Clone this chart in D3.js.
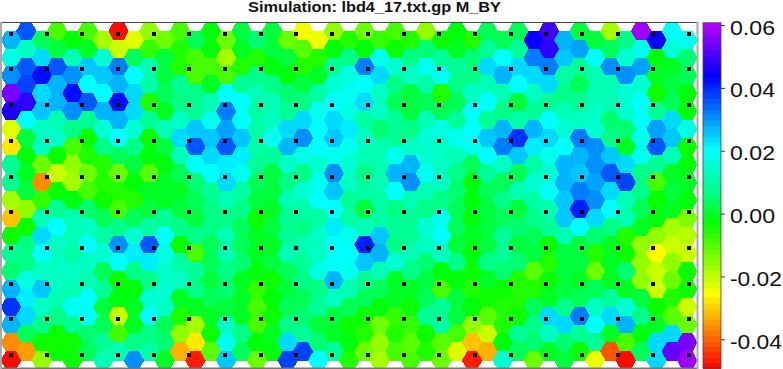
<!DOCTYPE html>
<html><head><meta charset="utf-8">
<style>html,body{margin:0;padding:0;background:#fff;overflow:hidden}</style>
<script src="https://cdn.jsdelivr.net/npm/d3@7/dist/d3.min.js"></script>
</head><body><script>
const title = "Simulation: lbd4_17.txt.gp M_BY";
const colorTicks = [0.06,0.04,0.02,0,-0.02,-0.04];
// values per hexagon column, top to bottom, in thousandths
const col00=[28,17,31,54,46,-22,-28,8,9,-18,-31,-4,9,5,27,39,28,-37,-49];
const col01=[35,14,36,38,48,21,1,-2,0,1,-15,-4,7,7,17,22,23,3,-34];
const col02=[3,24,43,23,26,14,14,-12,-36,-7,11,23,20,14,26,14,6,-3,-15];
const col03=[-9,2,35,27,27,12,13,-3,-20,-3,8,20,14,14,14,12,6,-4,-4];
const col04=[-2,12,30,43,30,6,-8,-15,-17,-2,12,12,10,13,12,18,8,-3,-3];
const col05=[-9,-1,25,20,35,9,-3,-6,-12,-8,5,14,21,14,12,20,21,5,4];
const col06=[-17,15,25,20,27,16,6,-5,-5,-3,3,10,16,4,9,2,3,8,11];
const col07=[-49,-20,33,28,43,28,20,4,-13,-6,-8,7,30,21,-3,-2,-20,-8,12];
const col08=[-22,3,20,24,23,15,6,1,-2,-6,3,16,22,7,-2,-1,-1,6,30];
const col09=[-15,-7,11,10,-5,8,-3,-2,-11,-1,2,10,36,22,7,15,20,6,10];
const col10=[-12,1,2,3,-1,11,1,-2,-1,0,8,20,17,14,16,13,3,5,-1];
const col11=[-9,-6,-5,8,6,13,23,12,4,0,1,6,-3,10,14,0,-6,-15,-33];
const col12=[4,-9,-9,6,9,26,36,20,5,4,1,6,-8,9,7,-1,-17,-28,-46];
const col13=[-2,-2,-8,-1,11,19,25,23,20,9,6,7,3,4,2,3,-1,-3,-10];
const col14=[-12,-18,-9,20,32,29,35,22,24,11,7,12,12,6,5,1,13,18,25];
const col15=[2,0,-6,9,20,20,25,22,19,10,7,3,4,5,-1,0,-1,6,3];
const col16=[5,-5,7,11,10,10,10,9,3,2,-3,0,0,-2,-7,-8,-8,-2,-13];
const col17=[1,1,-2,6,11,13,18,8,2,1,0,2,0,1,-3,-2,-3,-1,-2];
const col18=[-12,1,-2,5,9,23,28,14,7,11,8,9,12,4,1,3,7,23,37];
const col19=[-25,-10,-6,1,6,24,31,17,7,15,10,7,12,9,6,3,5,8,37];
const col20=[-24,-6,0,10,19,20,20,15,18,20,10,14,14,17,6,8,1,5,20];
const col21=[-16,-2,8,15,21,24,25,18,30,25,20,22,20,20,27,13,2,0,9];
const col22=[-6,6,17,19,17,22,19,15,14,9,10,18,20,19,11,3,-3,-2,-6];
const col23=[-13,-2,33,20,24,10,13,12,6,10,1,11,41,25,9,4,-3,-5,-12];
const col24=[-7,19,24,14,13,5,11,12,11,10,10,25,28,11,3,-2,-12,-15,-17];
const col25=[-9,-3,15,6,3,9,9,18,28,20,6,9,6,15,0,0,-7,-6,-9];
const col26=[-6,7,14,2,1,7,13,27,30,11,8,9,12,7,-1,-3,-7,-11,-9];
const col27=[-15,5,18,10,4,12,16,16,19,11,6,15,13,5,1,4,9,-3,-5];
const col28=[-4,9,19,-5,3,17,14,13,13,7,18,20,14,-2,-8,9,10,-10,-13];
const col29=[-2,0,8,6,4,8,18,12,6,5,3,4,2,7,-2,1,2,-9,-23];
const col30=[-5,5,7,13,20,21,19,3,-2,-2,-2,0,-2,-3,-5,-2,-15,-31,-47];
const col31=[4,9,23,12,20,8,25,20,8,4,1,2,2,7,-1,-3,-11,-20,-33];
const col32=[3,21,27,12,7,27,33,13,3,6,4,8,8,5,-3,-5,-5,-2,16];
const col33=[3,8,24,21,2,10,39,25,3,11,2,5,1,5,-5,-5,-3,9,3];
const col34=[44,33,24,14,8,28,22,10,16,10,6,3,1,-11,-5,4,6,5,-13];
const col35=[50,48,32,23,8,20,24,19,15,20,11,9,-3,-5,-3,-1,23,14,0];
const col36=[28,26,10,6,12,15,20,28,27,26,26,12,2,1,1,7,23,5,1];
const col37=[1,29,8,3,8,13,32,28,26,32,41,21,1,2,-1,3,33,8,-3];
const col38=[1,20,11,11,13,16,30,31,29,30,24,5,-6,-12,3,14,20,9,-24];
const col39=[-17,4,30,12,11,5,6,26,36,24,20,6,0,-1,0,8,24,0,-42];
const col40=[7,15,31,16,15,5,-1,24,38,11,12,-6,-3,5,0,16,28,-9,-49];
const col41=[58,19,29,16,21,21,18,19,7,6,4,0,-15,-15,-15,1,7,-2,3];
const col42=[44,-2,-1,-3,8,29,35,8,-9,-3,-2,-15,-26,-21,-20,-3,0,23,24];
const col43=[20,15,0,2,4,24,26,12,0,2,-1,-17,-20,-15,-13,-5,-11,23,53];
const col44=[19,5,4,-2,-2,17,-3,-2,0,-2,-14,-19,-21,-3,-4,-21,-12,54,58];
const columns=[col00,col01,col02,col03,col04,col05,col06,col07,col08,col09,col10,col11,col12,col13,col14,col15,col16,col17,col18,col19,col20,col21,col22,col23,col24,col25,col26,col27,col28,col29,col30,col31,col32,col33,col34,col35,col36,col37,col38,col39,col40,col41,col42,col43,col44];
const dotCols=d3.range(20), dotRows=d3.range(10);

const W=783,H=369;
const plot={l:2,r:697,t:22.5,b:368};
const bar={l:703,r:721,t:22.7,b:368};
const R=10.25;
const svg=d3.select("body").append("svg").attr("width",W).attr("height",H).style("display","block");
svg.append("rect").attr("width",W).attr("height",H).attr("fill","#fff");

const x=d3.scaleLinear().domain([0,44]).range([11,687.3]);
const y=d3.scaleLinear().domain([0,18]).range([40,360.4]);   // even columns
const dx=d3.scaleLinear().domain([0,19]).range([11,689]);
const dy=d3.scaleLinear().domain([0,9]).range([33.7,355]);
const vy=d3.scaleLinear().domain([0.06,-0.04]).range([25,339.3]);
const hue=d3.scaleLinear().domain([-49,-25.5,-2.5,6,20.5,43.7,60.7]).range([0,60,120,150,180,240,284]);
const levels=64, lo=-49, hi=60.7, step=(hi-lo)/levels;
const quant=v=>lo+(Math.min(levels-1,Math.floor((v-lo)/step))+0.5)*step;
const color=v=>d3.hsl(hue(quant(v)),1,0.5).formatHex();

svg.append("defs").append("clipPath").attr("id","c").append("rect")
  .attr("x",plot.l).attr("y",plot.t).attr("width",plot.r-plot.l).attr("height",plot.b-plot.t);
const hh=(y(1)-y(0))/2+0.25;
const hexPath=d3.line()([[R,0],[R/2,hh],[-R/2,hh],[-R,0],[-R/2,-hh],[R/2,-hh]])+"Z";
const cells=columns.flatMap((c,i)=>c.map((v,j)=>({i,j,v})));
const gh=svg.append("g").attr("clip-path","url(#c)");
gh.selectAll("path").data(cells).join("path")
  .attr("d",hexPath)
  .attr("transform",d=>`translate(${x(d.i)},${y(d.j)-(d.i%2?y(0.5)-y(0):0)})`)
  .attr("fill",d=>color(d.v))
  .attr("shape-rendering","crispEdges");

const dots=dotCols.flatMap(a=>dotRows.map(b=>({a,b})));
svg.append("g").selectAll("rect").data(dots).join("rect")
  .attr("x",d=>Math.round(dx(d.a))-2).attr("y",d=>Math.round(dy(d.b))-2)
  .attr("width",4).attr("height",4).attr("fill","#000");

// frame
svg.append("line").attr("x1",1).attr("x2",698).attr("y1",22.5).attr("y2",22.5).attr("stroke","#444");
svg.append("line").attr("x1",1).attr("x2",698).attr("y1",368.2).attr("y2",368.2).attr("stroke","#777").attr("stroke-width",1.6);
svg.append("line").attr("x1",1).attr("x2",1).attr("y1",22).attr("y2",369).attr("stroke","#aaa").attr("stroke-width",2);
svg.append("line").attr("x1",697.5).attr("x2",697.5).attr("y1",22).attr("y2",369).attr("stroke","#aaa").attr("stroke-width",2);

// colour bar
const barY=d3.scaleLinear().domain([lo,hi]).range([bar.b,bar.t]);
const bands=d3.range(levels).map(i=>lo+i*step);
svg.append("g").selectAll("rect").data(bands).join("rect")
  .attr("x",bar.l).attr("width",bar.r-bar.l)
  .attr("y",d=>barY(d+step)).attr("height",d=>barY(d)-barY(d+step)+0.5)
  .attr("fill",d=>color(d+step/2)).attr("shape-rendering","crispEdges");
svg.append("rect").attr("x",bar.l).attr("y",bar.t).attr("width",bar.r-bar.l).attr("height",bar.b-bar.t)
  .attr("fill","none").attr("stroke","#444").attr("stroke-width",0.8);
const axis=d3.axisRight(vy).tickValues(colorTicks).tickSize(4).tickPadding(5)
  .tickFormat(d=>d3.format(".2f")(d).replace("\u2212","-"));
const ga=svg.append("g").attr("transform",`translate(${bar.r},0)`).call(axis);
ga.select(".domain").remove();
ga.selectAll("line").attr("stroke","#333");
ga.selectAll("text").attr("fill","#111").attr("font-family","Liberation Sans, Arial, sans-serif").attr("font-size",20)
  .attr("dy",9)
  .attr("textLength",d=>d<0?52:45).attr("lengthAdjust","spacingAndGlyphs");

svg.append("text").attr("x",248).attr("y",12).attr("text-anchor","start")
  .attr("font-family","Liberation Sans, Arial, sans-serif").attr("font-weight","bold")
  .attr("font-size",14).attr("fill","#111")
  .attr("textLength",253).attr("lengthAdjust","spacingAndGlyphs").text(title);
</script></body></html>
